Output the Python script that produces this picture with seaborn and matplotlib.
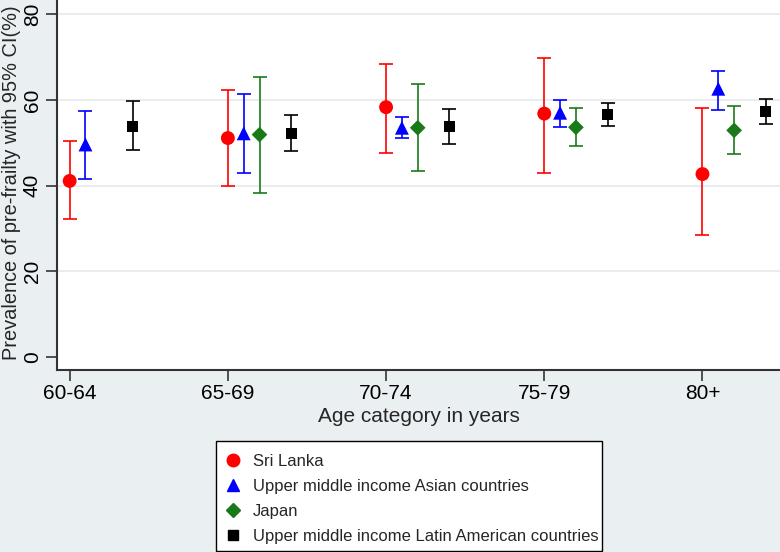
import numpy as np
import pandas as pd
import matplotlib
matplotlib.use("Agg")
import matplotlib.pyplot as plt
import seaborn as sns
from matplotlib.lines import Line2D
from matplotlib.patches import Rectangle

# age groups on the x axis
age_groups = ["60-64", "65-69", "70-74", "75-79", "80+"]

# prevalence estimates and 95% CI bounds
sri_lanka = [41.1, 51.1, 58.3, 56.8, 42.7]
sri_lanka_lo = [32.3, 39.9, 47.5, 43.0, 28.4]
sri_lanka_hi = [50.5, 62.2, 68.4, 69.7, 58.2]

asia_umi = [49.6, 52.2, 53.5, 57.0, 62.6]
asia_umi_lo = [41.5, 42.9, 51.2, 53.6, 57.7]
asia_umi_hi = [57.4, 61.4, 56.0, 60.0, 66.8]

japan = [np.nan, 51.9, 53.5, 53.6, 52.9]
japan_lo = [np.nan, 38.3, 43.4, 49.2, 47.3]
japan_hi = [np.nan, 65.3, 63.7, 58.0, 58.5]

latam_umi = [53.8, 52.1, 53.8, 56.6, 57.2]
latam_umi_lo = [48.2, 48.0, 49.6, 54.0, 54.3]
latam_umi_hi = [59.7, 56.5, 57.8, 59.2, 60.1]

series_names = ["Sri Lanka", "Upper middle income Asian countries", "Japan",
                "Upper middle income Latin American countries"]

rows = []
for name, est, lo, hi in [
    (series_names[0], sri_lanka, sri_lanka_lo, sri_lanka_hi),
    (series_names[1], asia_umi, asia_umi_lo, asia_umi_hi),
    (series_names[2], japan, japan_lo, japan_hi),
    (series_names[3], latam_umi, latam_umi_lo, latam_umi_hi),
]:
    for i, g in enumerate(age_groups):
        rows.append({"series": name, "group": i, "age": g, "est": est[i], "lo": lo[i], "hi": hi[i]})
df = pd.DataFrame(rows)

colors = {series_names[0]: "#ff0000", series_names[1]: "#0000ff",
          series_names[2]: "#1a7a1a", series_names[3]: "#000000"}
markers = {series_names[0]: "o", series_names[1]: "^",
           series_names[2]: "D", series_names[3]: "s"}
sizes = {series_names[0]: 10, series_names[1]: 10, series_names[2]: 8, series_names[3]: 8}
offsets = {series_names[0]: 0.0, series_names[1]: 0.1, series_names[2]: 0.2, series_names[3]: 0.4}
df["x"] = df["group"] + df["series"].map(offsets)

bg = "#eaf0f2"
sns.set_theme(style="white")
plt.rcParams["font.family"] = ["Liberation Sans", "DejaVu Sans"]

fig = plt.figure(figsize=(7.8, 5.52), dpi=100, facecolor=bg)
ax = fig.add_axes([57 / 780, (552 - 370) / 552, 1 - 57 / 780, 370 / 552])
ax.set_facecolor("white")

for name in series_names:
    d = df[df["series"] == name].dropna()
    ax.errorbar(d["x"], d["est"], yerr=[d["est"] - d["lo"], d["hi"] - d["est"]],
                fmt="none", ecolor=colors[name], elinewidth=1.2, capsize=5, capthick=1.2, zorder=2)
    sns.scatterplot(data=d, x="x", y="est", ax=ax, color=colors[name], marker=markers[name],
                    s=sizes[name] ** 2, edgecolor="none", zorder=3, legend=False)

ax.set_xlim(-0.08, 4.49)
ax.set_ylim(-3.0, 83.3)
ax.set_xticks(range(len(age_groups)))
ax.set_xticklabels(age_groups)
ax.set_yticks([0, 20, 40, 60, 80])
for v in [20, 40, 60, 80]:
    ax.axhline(v, color="#e6eaec", lw=1.2, zorder=0)

ax.tick_params(axis="both", direction="out", length=8, width=1.2, color="#333333",
               labelsize=15, bottom=True, left=True, colors="#333333", labelcolor="black")
ax.tick_params(axis="y", labelrotation=90, pad=3)
ax.tick_params(axis="x", pad=2)
for lab in ax.get_yticklabels():
    lab.set_va("center")

for s in ["top", "right"]:
    ax.spines[s].set_visible(False)
for s in ["left", "bottom"]:
    ax.spines[s].set_color("#333333")
    ax.spines[s].set_linewidth(1.5)

ax.set_xlabel("Age category in years", fontsize=15, labelpad=3)
ax.set_ylabel("Prevalence of pre-frailty with 95% CI(%)", fontsize=14.4)
ax.yaxis.set_label_coords(-0.05, 0.505)

# legend box drawn separately so its padding matches the reference
fig.patches.append(Rectangle((216 / 780, 1 / 552), 386 / 780, 110 / 552,
                             transform=fig.transFigure, facecolor="white",
                             edgecolor="black", lw=1.0, zorder=1))
handles = [Line2D([], [], linestyle="none", marker=markers[n], color=colors[n],
                  markersize=sizes[n] * 0.9) for n in series_names]
leg = fig.legend(handles, series_names, loc="upper left",
                 bbox_to_anchor=(223 / 780, 1 - 454 / 552), fontsize=12, frameon=False,
                 handletextpad=0.6, labelspacing=0.6, borderpad=0, handlelength=1.2,
                 borderaxespad=0)
leg.set_zorder(2)

fig.savefig("out.png", dpi=100, facecolor=bg)
